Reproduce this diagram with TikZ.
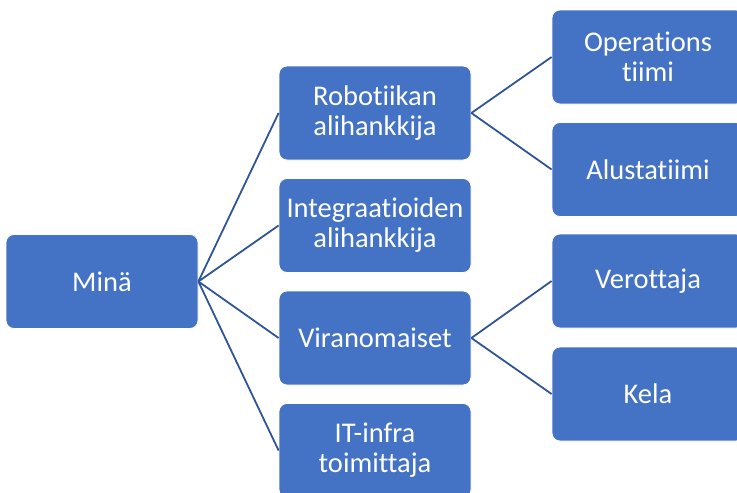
\documentclass[tikz,border=0pt]{standalone}
\usepackage{fontspec}
\setmainfont[Ligatures={NoCommon}]{Carlito}
\definecolor{boxblue}{HTML}{4472C4}
\definecolor{lineblue}{HTML}{2F5597}
\begin{document}
\begin{tikzpicture}[x=1pt,y=-1pt,
  box/.style={draw=white,line width=0.8pt,fill=boxblue,rounded corners=8pt,
    minimum width=192pt,minimum height=94pt,text=white,align=center,
    inner sep=2pt,font=\fontsize{28.5}{30}\selectfont},
  conn/.style={draw=lineblue,line width=1.8pt}]
\useasboundingbox (0,0) rectangle (737,493);
\clip (0,0) rectangle (737,493);
\node[box] (mina) at (102,281.5) {Minä};
\node[box] (rob) at (375,113) {Robotiikan\\alihankkija};
\node[box] (int) at (375,225.5) {Integraatioiden\\alihankkija};
\node[box] (vir) at (375,338) {Viranomaiset};
\node[box] (it) at (375,450.5) {IT-infra\\toimittaja};
\node[box] (ops) at (648,57) {Operations\\tiimi};
\node[box] (alu) at (648,169.5) {Alustatiimi};
\node[box] (ver) at (648,281) {Verottaja};
\node[box] (kela) at (648,394) {Kela};
\foreach \t in {rob,int,vir,it}
  \draw[conn] (mina.east) -- (\t.west);
\draw[conn] (rob.east) -- (ops.west);
\draw[conn] (rob.east) -- (alu.west);
\draw[conn] (vir.east) -- (ver.west);
\draw[conn] (vir.east) -- (kela.west);
\end{tikzpicture}
\end{document}
